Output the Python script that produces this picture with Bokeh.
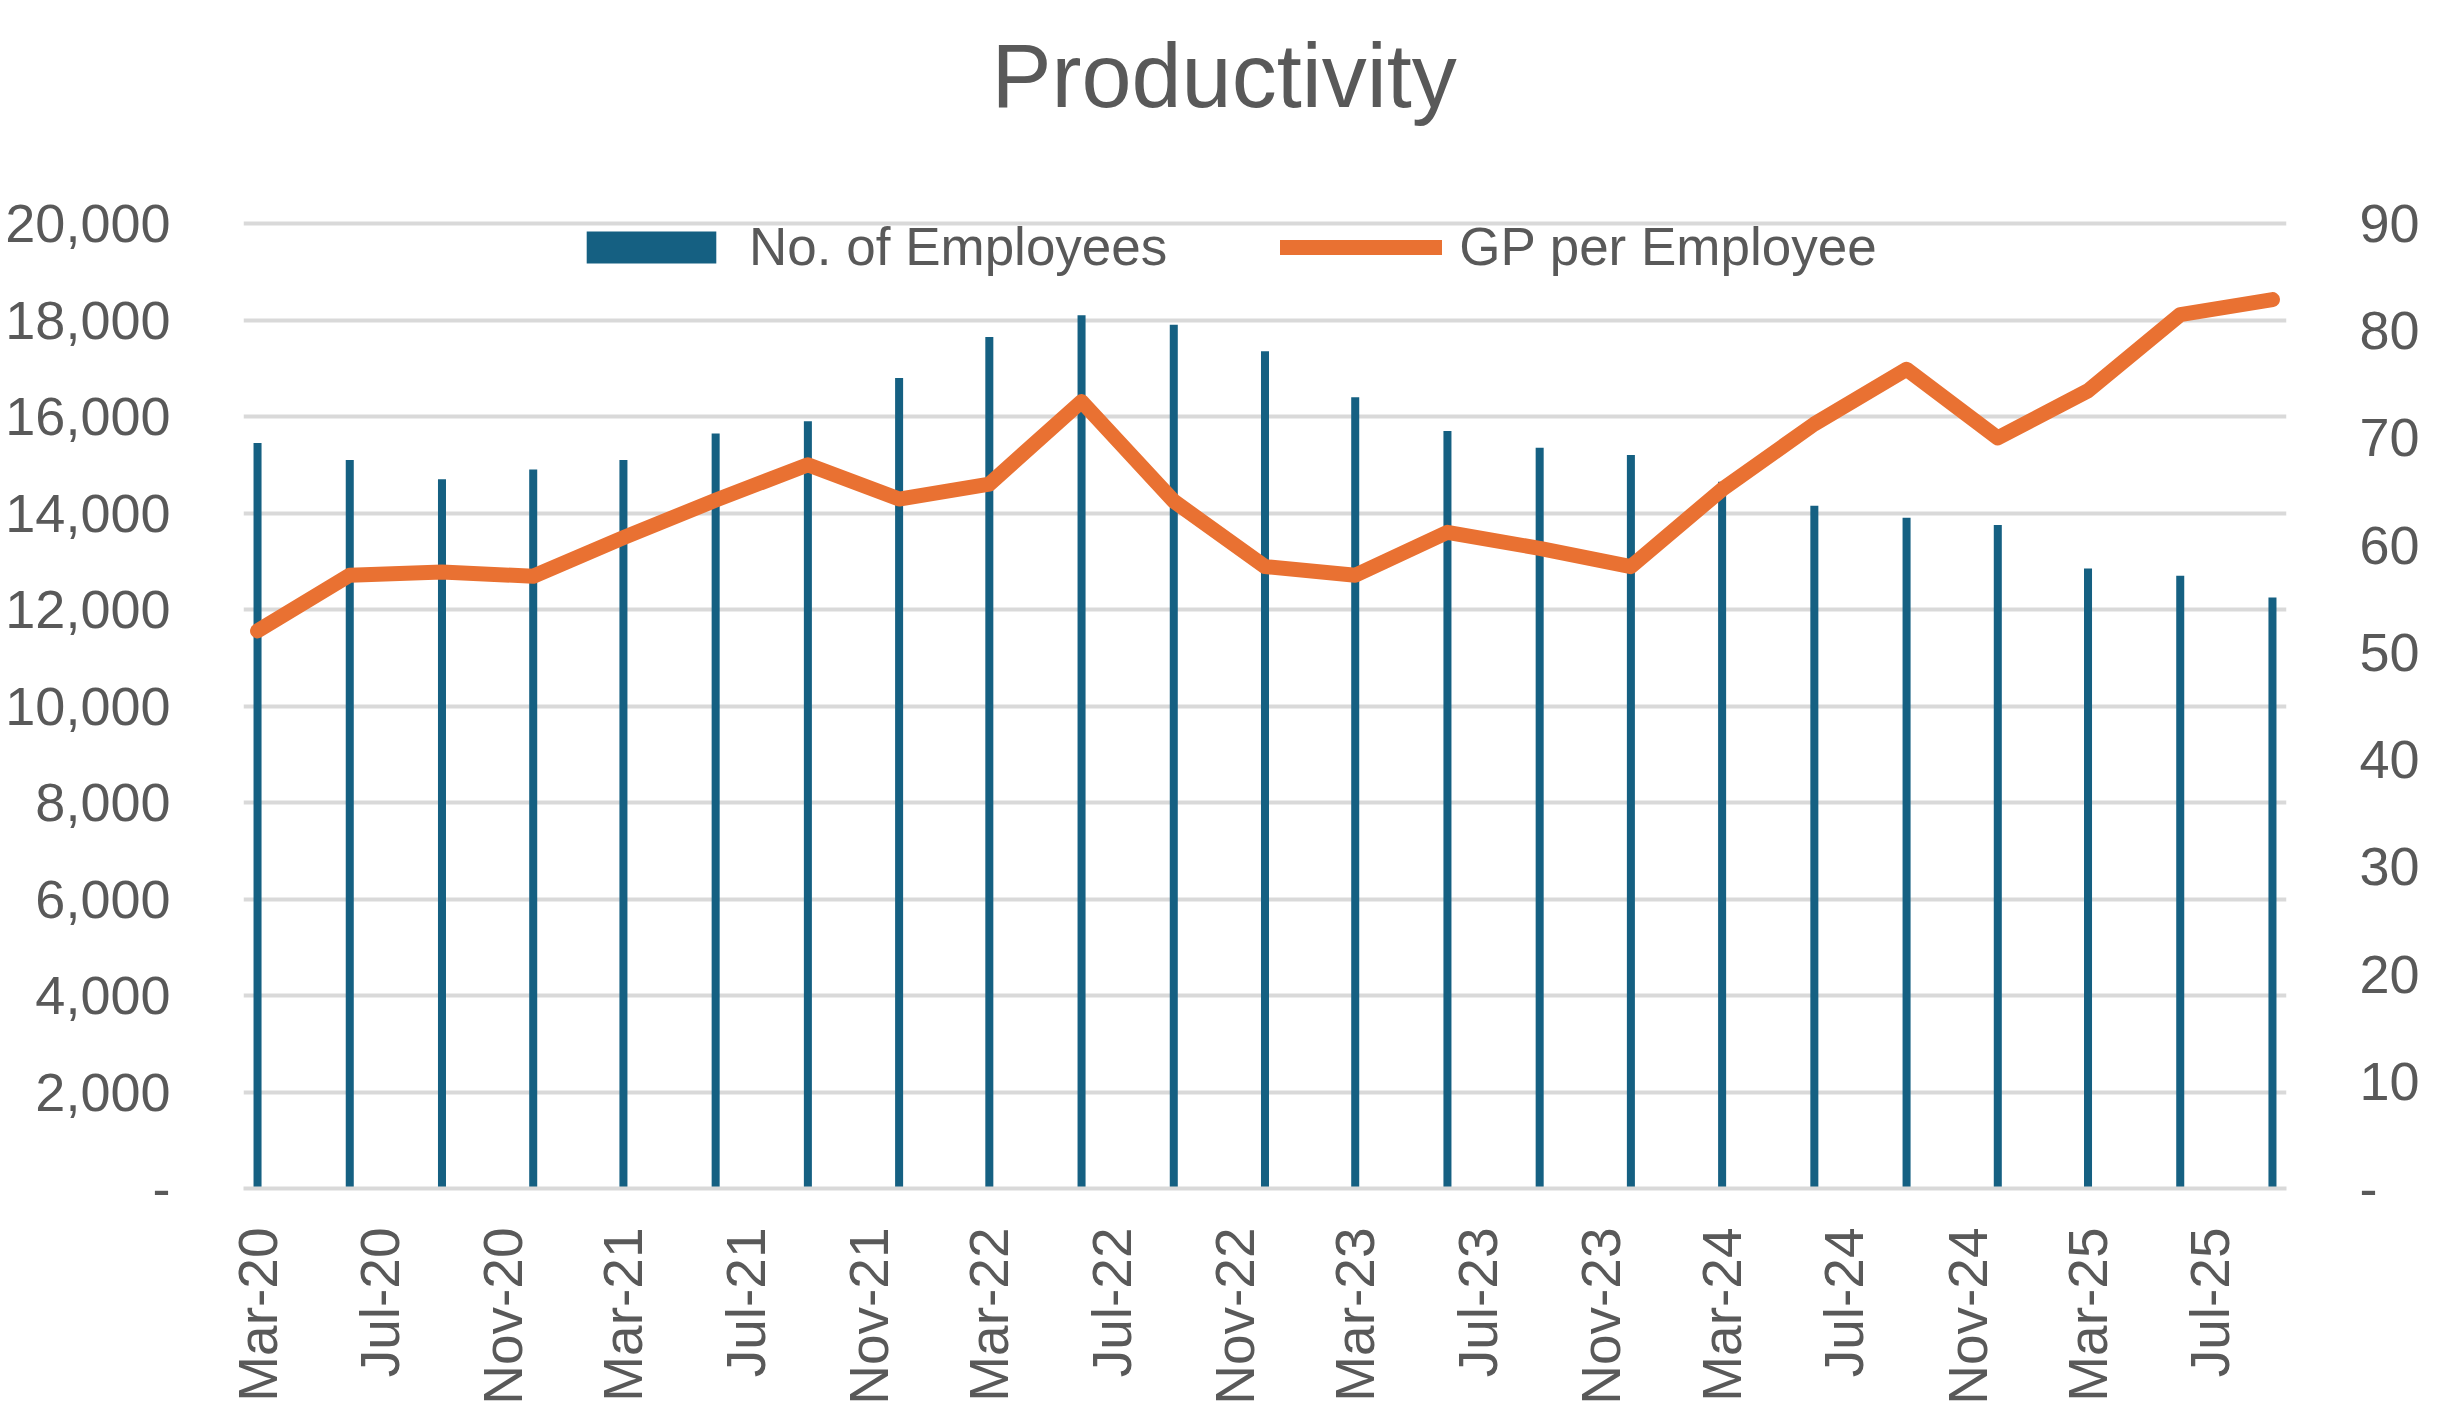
import pandas as pd
from bokeh.plotting import figure
from bokeh.models import (Range1d, LinearAxis, FixedTicker, DatetimeTickFormatter,
                          NumeralTickFormatter, Legend, LegendItem, ColumnDataSource, Title)
from bokeh.embed import file_html
from bokeh.resources import INLINE

# ---- data ----
quarters = ["2020-03-01", "2020-06-01", "2020-09-01", "2020-12-01",
            "2021-03-01", "2021-06-01", "2021-09-01", "2021-12-01",
            "2022-03-01", "2022-06-01", "2022-09-01", "2022-12-01",
            "2023-03-01", "2023-06-01", "2023-09-01", "2023-12-01",
            "2024-03-01", "2024-06-01", "2024-09-01", "2024-12-01",
            "2025-03-01", "2025-06-01", "2025-09-01"]
employees = [15450, 15100, 14700, 14900, 15100, 15650, 15900, 16800,
             17650, 18100, 17900, 17350, 16400, 15700, 15350, 15200,
             14650, 14150, 13900, 13750, 12850, 12700, 12250]
gp_per_employee = [52.0, 57.2, 57.5, 57.1, 60.7, 64.2, 67.5, 64.3,
                   65.7, 73.4, 64.1, 58.0, 57.2, 61.2, 59.7, 58.0,
                   65.2, 71.3, 76.4, 70.0, 74.4, 81.5, 82.9]
tick_dates = ["2020-03-01", "2020-07-01", "2020-11-01", "2021-03-01",
              "2021-07-01", "2021-11-01", "2022-03-01", "2022-07-01",
              "2022-11-01", "2023-03-01", "2023-07-01", "2023-11-01",
              "2024-03-01", "2024-07-01", "2024-11-01", "2025-03-01",
              "2025-07-01"]
left_ticks = [0, 2000, 4000, 6000, 8000, 10000, 12000, 14000, 16000, 18000, 20000]
right_ticks = [0, 10, 20, 30, 40, 50, 60, 70, 80, 90]

BAR = "#156082"
LINE = "#E97132"
TXT = "#595959"
GRID = "#D9D9D9"
FONT = "Liberation Sans"

# the frame extends 20px above the top gridline so the legend sits wholly inside it
TOP_PAD = 985 / 965
x = pd.to_datetime(quarters)
src = ColumnDataSource(dict(x=x, emp=employees, gp=gp_per_employee))

day = pd.Timedelta(days=1)
p = figure(width=2437, height=1408, x_axis_type="datetime",
           output_backend="svg", toolbar_location=None,
           x_range=Range1d(x[0] - 14 * day, x[-1] + 14 * day),
           y_range=Range1d(0, left_ticks[-1] * TOP_PAD),
           min_border_left=243, min_border_right=151,
           min_border_top=203, min_border_bottom=220)
p.outline_line_color = None
p.background_fill_color = "white"
p.border_fill_color = "white"
p.title.text = ""

# white spacer panel next to the frame, then the visible title above it
p.add_layout(Title(text=".", text_color="white", text_font_size="10px",
                   standoff=68), "above")
p.add_layout(Title(text="Productivity", text_font=FONT, text_font_size="90px",
                   text_font_style="normal", text_color=TXT, align="left",
                   offset=748, standoff=0), "above")

p.extra_y_ranges = {"right": Range1d(0, right_ticks[-1] * TOP_PAD)}

bars = p.vbar(x="x", top="emp", width=8 * 24 * 3600 * 1000, source=src,
              fill_color=BAR, line_color=None)
line = p.line(x="x", y="gp", source=src, y_range_name="right",
              line_color=LINE, line_width=15, line_join="round", line_cap="round")

# x axis
xa = p.xaxis[0]
xa.ticker = FixedTicker(ticks=[pd.Timestamp(d).value / 1e6 for d in tick_dates])
fmt = "%b-%y"
xa.formatter = DatetimeTickFormatter(days=fmt, months=fmt, years=fmt)
xa.major_label_orientation = 3.14159265 / 2
xa.major_label_text_font = FONT
xa.major_label_text_font_size = "55px"
xa.major_label_text_color = TXT
xa.major_label_standoff = 39
xa.major_tick_out = 0
xa.major_tick_in = 0
xa.minor_tick_out = 0
xa.minor_tick_in = 0
xa.axis_line_color = GRID
xa.axis_line_width = 4
xa.major_tick_line_color = None
xa.minor_tick_line_color = None

# left axis
ya = p.yaxis[0]
ya.ticker = FixedTicker(ticks=left_ticks)
ya.formatter = NumeralTickFormatter(format="0,0")
ya.major_label_overrides = {0: "-"}
ya.major_label_text_font = FONT
ya.major_label_text_font_size = "54px"
ya.major_label_text_color = TXT
ya.major_label_standoff = 73
ya.major_tick_out = 0
ya.major_tick_in = 0
ya.minor_tick_out = 0
ya.minor_tick_in = 0
ya.axis_line_color = None
ya.major_tick_line_color = None
ya.minor_tick_line_color = None

# right axis
ra = LinearAxis(y_range_name="right", ticker=FixedTicker(ticks=right_ticks))
ra.major_label_overrides = {0: "-"}
ra.major_label_text_font = FONT
ra.major_label_text_font_size = "54px"
ra.major_label_text_color = TXT
ra.major_label_standoff = 73
ra.major_tick_out = 0
ra.major_tick_in = 0
ra.minor_tick_out = 0
ra.minor_tick_in = 0
ra.axis_line_color = None
ra.major_tick_line_color = None
ra.minor_tick_line_color = None
p.add_layout(ra, "right")

p.xgrid.grid_line_color = None
p.ygrid.grid_line_color = GRID
p.ygrid.grid_line_width = 4
p.ygrid.ticker = FixedTicker(ticks=left_ticks)

legend = Legend(items=[LegendItem(label="No. of Employees", renderers=[bars]),
                       LegendItem(label="GP per Employee", renderers=[line])],
                orientation="horizontal", location=(327, 911),
                glyph_width=162, glyph_height=40, label_standoff=17,
                spacing=113, padding=0, margin=0,
                border_line_color=None, background_fill_alpha=0,
                label_text_font=FONT, label_text_font_size="53px",
                label_text_color=TXT)
p.add_layout(legend, "center")

open("out.html", "w").write(file_html(p, INLINE))
